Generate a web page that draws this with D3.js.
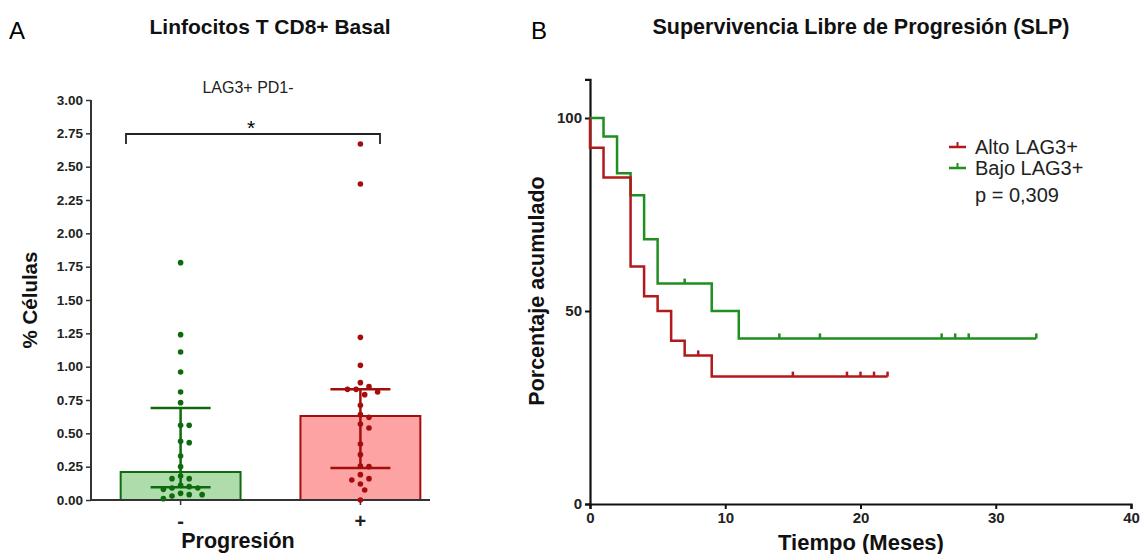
<!DOCTYPE html>
<html>
<head>
<meta charset="utf-8">
<script src="https://cdn.jsdelivr.net/npm/d3@7"></script>
<style>
  body { margin: 0; background: #fff; }
  svg { font-family: "Liberation Sans", Arial, sans-serif; }
  .tick text { font-weight: bold; fill: #222; }
</style>
</head>
<body>
<div id="chart"></div>
<script>
// ---- panel A data ----
var groups = ["-", "+"];
var barValues = [0.21, 0.63];
var errLow = [0.095, 0.24];
var errHigh = [0.69, 0.83];
var negDots = [1.78, 1.24, 1.11, 0.96, 0.81, 0.73, 0.56, 0.56, 0.44, 0.43, 0.33, 0.25,
  0.18, 0.16, 0.16, 0.11, 0.10, 0.09, 0.09, 0.08, 0.05, 0.04, 0.04, 0.03, 0.01];
var posDots = [2.67, 2.37, 1.22, 1.01, 0.88, 0.85, 0.83, 0.83, 0.81, 0.79, 0.71, 0.64, 0.62,
  0.57, 0.54, 0.42, 0.34, 0.255, 0.25, 0.19, 0.16, 0.15, 0.12, 0.075, 0.0];
var yTicksA = [0, 0.25, 0.5, 0.75, 1, 1.25, 1.5, 1.75, 2, 2.25, 2.5, 2.75, 3];

// ---- panel B data ----
var altoTimes = [0, 1, 3, 4, 5, 6, 7, 9];
var altoSurv = [92.3, 84.6, 61.5, 53.8, 50.0, 42.3, 38.5, 33.0];
var altoCensor = [8, 15, 19, 20, 21, 22];
var altoEnd = 22;
var bajoTimes = [1, 2, 3, 4, 5, 9, 11];
var bajoSurv = [95.2, 85.7, 80.0, 68.6, 57.1, 50.0, 42.9];
var bajoCensor = [7, 14, 17, 26, 27, 28, 33];
var bajoEnd = 33;
var xTicksB = [0, 10, 20, 30, 40];
var yTicksB = [0, 50, 100];

var svgWidth = 1145;
var svgHeight = 554;

var svg = d3.select("#chart").append("svg")
  .attr("width", svgWidth)
  .attr("height", svgHeight);

// panel letters and titles
svg.append("text").attr("x", 9).attr("y", 39).attr("font-size", 24).text("A");
svg.append("text").attr("x", 531).attr("y", 39).attr("font-size", 24).text("B");
svg.append("text").attr("x", 270).attr("y", 34).attr("text-anchor", "middle")
  .attr("font-size", 21).attr("font-weight", "bold").attr("fill", "#111").text("Linfocitos T CD8+ Basal");
svg.append("text").attr("x", 861).attr("y", 34).attr("text-anchor", "middle")
  .attr("font-size", 21.5).attr("font-weight", "bold").attr("fill", "#111").text("Supervivencia Libre de Progresión (SLP)");

// ================= Panel A =================
var greenFill = "#aedcaa", greenDark = "#0d6b0d";
var redFill = "#fda3a3", redDark = "#a50d0d";
var fills = [greenFill, redFill];
var darks = [greenDark, redDark];

var yA = d3.scaleLinear().domain([0, 3]).range([500, 100]);
var xA = d3.scaleBand().domain(groups).range([91, 450]).paddingInner(1 / 3).paddingOuter(0.165);

var gA = svg.append("g");

gA.append("g")
  .attr("transform", "translate(91,0)")
  .call(d3.axisLeft(yA).tickValues(yTicksA).tickFormat(d3.format(".2f")).tickSize(5))
  .call(g => g.select(".domain").remove())
  .call(g => g.selectAll("line").attr("stroke", "#333").attr("stroke-width", 1.5))
  .call(g => g.selectAll("text").style("font-size", "13.5px"));
gA.append("line").attr("x1", 91).attr("x2", 91).attr("y1", yA(3)).attr("y2", yA(0) + 1)
  .attr("stroke", "#333").attr("stroke-width", 2);

// bars
gA.selectAll("rect.bar")
  .data(groups)
  .enter()
  .append("rect")
  .attr("class", "bar")
  .attr("x", d => xA(d))
  .attr("width", xA.bandwidth())
  .attr("y", (d, i) => yA(barValues[i]))
  .attr("height", (d, i) => yA(0) - yA(barValues[i]))
  .attr("fill", (d, i) => fills[i])
  .attr("stroke", (d, i) => darks[i])
  .attr("stroke-width", 2);

// x axis
gA.append("g")
  .attr("transform", "translate(0,500)")
  .call(d3.axisBottom(xA).tickSize(5))
  .call(g => g.select(".domain").remove())
  .call(g => g.selectAll("line").attr("stroke", "#333").attr("stroke-width", 1.5))
  .call(g => g.selectAll("text").style("font-size", "20px").attr("dy", "1.0em"));
gA.append("line").attr("x1", 90).attr("x2", 430).attr("y1", 500).attr("y2", 500)
  .attr("stroke", "#333").attr("stroke-width", 2);

// simple beeswarm: offsets computed from the values
function swarm(values, cx) {
  var placed = [];
  var minD = 7, step = 4.3;
  values.slice().sort((a, b) => b - a).forEach(function(v) {
    var cy = yA(v);
    for (var k = 0; k < 20; k++) {
      var off = (k === 0) ? 0 : Math.ceil(k / 2) * step * (k % 2 ? 1 : -1);
      var ok = placed.every(p => Math.hypot(p.x - (cx + off), p.y - cy) >= minD);
      if (ok) { placed.push({x: cx + off, y: cy}); break; }
    }
  });
  return placed;
}

[negDots, posDots].forEach(function(vals, i) {
  var cx = xA(groups[i]) + xA.bandwidth() / 2;
  var pts = swarm(vals, cx);
  // error bar
  var eg = gA.append("g").attr("stroke", darks[i]).attr("stroke-width", 2.5);
  eg.append("line").attr("x1", cx).attr("x2", cx).attr("y1", yA(errLow[i])).attr("y2", yA(errHigh[i]));
  eg.append("line").attr("x1", cx - 30).attr("x2", cx + 30).attr("y1", yA(errLow[i])).attr("y2", yA(errLow[i]));
  eg.append("line").attr("x1", cx - 30).attr("x2", cx + 30).attr("y1", yA(errHigh[i])).attr("y2", yA(errHigh[i]));
  gA.append("g").selectAll("circle")
    .data(pts)
    .enter()
    .append("circle")
    .attr("cx", d => d.x)
    .attr("cy", d => d.y)
    .attr("r", 2.8)
    .attr("fill", darks[i]);
});

// significance bracket
gA.append("path")
  .attr("d", `M126,144 V134 H380 V144`)
  .attr("fill", "none").attr("stroke", "#222").attr("stroke-width", 1.8);
gA.append("text").attr("x", 251).attr("y", 135).attr("text-anchor", "middle")
  .attr("font-size", 21).text("*");
gA.append("text").attr("x", 248).attr("y", 93).attr("text-anchor", "middle")
  .attr("font-size", 16).attr("fill", "#222").text("LAG3+ PD1-");

gA.append("text").attr("x", 238).attr("y", 548).attr("text-anchor", "middle")
  .attr("font-size", 21.5).attr("font-weight", "bold").attr("fill", "#111").text("Progresión");
gA.append("text").attr("transform", "translate(37,300) rotate(-90)").attr("text-anchor", "middle")
  .attr("font-size", 20.5).attr("font-weight", "bold").attr("fill", "#111").text("% Células");

// ================= Panel B =================
var altoColor = "#b3181b", bajoColor = "#1f8f1f";
var xB = d3.scaleLinear().domain([0, 40]).range([590, 1131]);
var yB = d3.scaleLinear().domain([0, 110]).range([504, 79.4]);

var gB = svg.append("g");
gB.append("g")
  .attr("transform", "translate(0,504)")
  .call(d3.axisBottom(xB).tickValues(xTicksB).tickSize(5))
  .call(g => g.select(".domain").attr("stroke", "#111").attr("stroke-width", 2.2))
  .call(g => g.selectAll("line").attr("stroke", "#111").attr("stroke-width", 2))
  .call(g => g.selectAll("text").style("font-size", "15px"));
gB.append("g")
  .attr("transform", "translate(590,0)")
  .call(d3.axisLeft(yB).tickValues(yTicksB).tickSize(5))
  .call(g => g.select(".domain").attr("stroke", "#111").attr("stroke-width", 2.2))
  .call(g => g.selectAll("line").attr("stroke", "#111").attr("stroke-width", 2))
  .call(g => g.selectAll("text").style("font-size", "15px"));

function kmPoints(times, surv, end) {
  var pts = [[0, 100]];
  times.forEach((t, i) => pts.push([t, surv[i]]));
  pts.push([end, surv[surv.length - 1]]);
  return pts;
}
function survAt(times, surv, t) {
  var s = 100;
  times.forEach((tt, i) => { if (tt <= t) s = surv[i]; });
  return s;
}
var kmLine = d3.line().x(d => xB(d[0])).y(d => yB(d[1])).curve(d3.curveStepAfter);

var curves = [
  {times: altoTimes, surv: altoSurv, censor: altoCensor, end: altoEnd, color: altoColor},
  {times: bajoTimes, surv: bajoSurv, censor: bajoCensor, end: bajoEnd, color: bajoColor}
];
// draw green first so red sits above where they meet
curves.slice().reverse().forEach(function(c) {
  gB.append("path")
    .attr("d", kmLine(kmPoints(c.times, c.surv, c.end)))
    .attr("fill", "none").attr("stroke", c.color).attr("stroke-width", 2.5);
  gB.append("g").selectAll("line")
    .data(c.censor)
    .enter()
    .append("line")
    .attr("x1", d => xB(d)).attr("x2", d => xB(d))
    .attr("y1", d => yB(survAt(c.times, c.surv, d)))
    .attr("y2", d => yB(survAt(c.times, c.surv, d)) - 5)
    .attr("stroke", c.color).attr("stroke-width", 2.5);
});

// legend
var legendNames = ["Alto LAG3+", "Bajo LAG3+"];
var legendColors = [altoColor, bajoColor];
legendNames.forEach(function(name, i) {
  var ly = 147 + i * 21;
  gB.append("line").attr("x1", 949).attr("x2", 966).attr("y1", ly).attr("y2", ly)
    .attr("stroke", legendColors[i]).attr("stroke-width", 2.5);
  gB.append("line").attr("x1", 957.5).attr("x2", 957.5).attr("y1", ly).attr("y2", ly - 5)
    .attr("stroke", legendColors[i]).attr("stroke-width", 2);
  gB.append("text").attr("x", 975).attr("y", ly + 7).attr("font-size", 20).attr("fill", "#222").text(name);
});
gB.append("text").attr("x", 975).attr("y", 202).attr("font-size", 20).attr("fill", "#222").text("p = 0,309");

gB.append("text").attr("x", 861).attr("y", 550).attr("text-anchor", "middle")
  .attr("font-size", 22).attr("font-weight", "bold").attr("fill", "#111").text("Tiempo (Meses)");
gB.append("text").attr("transform", "translate(544,291) rotate(-90)").attr("text-anchor", "middle")
  .attr("font-size", 21.5).attr("font-weight", "bold").attr("fill", "#111").text("Porcentaje acumulado");
</script>
</body>
</html>
